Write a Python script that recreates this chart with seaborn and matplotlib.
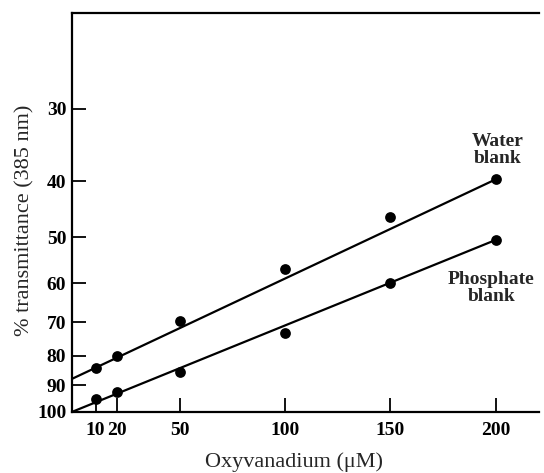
import numpy as np
import pandas as pd
import matplotlib
matplotlib.use("Agg")
import matplotlib.pyplot as plt
import seaborn as sns
from matplotlib.ticker import FixedLocator, FixedFormatter, NullLocator

# values
conc = [10, 20, 50, 100, 150, 200]                    # oxyvanadium (uM)
water_T = [83.9, 80.1, 69.7, 56.7, 46.1, 39.7]        # % transmittance, water blank
phosphate_T = [95.0, 92.4, 85.3, 73.1, 59.9, 50.5]    # % transmittance, phosphate blank

# hand-drawn fit lines (ends)
fit_conc = [-1.3, 200]
water_fit = [87.7, 39.7]
phosphate_fit = [100.0, 50.5]

x_ticks = [10, 20, 50, 100, 150, 200]
y_ticks = [30, 40, 50, 60, 70, 80, 90, 100]

sns.set_theme(style="ticks")
plt.rcParams["font.family"] = ["Liberation Serif", "DejaVu Serif"]

df = pd.DataFrame({"conc": conc, "water": water_T, "phosphate": phosphate_T})
fit = pd.DataFrame({"conc": fit_conc, "water": water_fit, "phosphate": phosphate_fit})

fig = plt.figure(figsize=(5.44, 4.73), dpi=100)
ax = fig.add_axes([0.132, 0.129, 0.858, 0.8435])

for col in ["water", "phosphate"]:
    sns.lineplot(data=fit, x="conc", y=col, ax=ax, color="black", linewidth=1.6)
    sns.scatterplot(data=df, x="conc", y=col, ax=ax, color="black", s=60,
                    edgecolor="black", linewidth=0, zorder=3)

ax.set_yscale("log")
ax.set_ylim(100, 20.5)
ax.set_xlim(-1.3, 220.4)

ax.yaxis.set_major_locator(FixedLocator(y_ticks))
ax.yaxis.set_major_formatter(FixedFormatter([str(t) for t in y_ticks]))
ax.yaxis.set_minor_locator(NullLocator())
ax.xaxis.set_major_locator(FixedLocator(x_ticks))

ax.tick_params(axis="both", direction="in", length=10, width=1.3, colors="black",
               labelsize=14)
ax.tick_params(axis="x", pad=7)
ax.tick_params(axis="y", pad=4)
for lab in ax.get_xticklabels() + ax.get_yticklabels():
    lab.set_fontweight("bold")

for side in ["left", "top", "bottom"]:
    ax.spines[side].set_linewidth(1.6)
    ax.spines[side].set_color("black")
ax.spines["right"].set_visible(False)

ax.set_xlabel("Oxyvanadium (\u03bcM)", fontsize=16)
ax.set_ylabel("% transmittance (385 nm)", fontsize=16)
ax.xaxis.set_label_coords(0.475, -0.1)
ax.yaxis.set_label_coords(-0.079, 0.48)

ax.text(201, 35.3, "Water\nblank", ha="center", va="center", fontsize=14,
        fontweight="bold", linespacing=0.95)
ax.text(198, 61.1, "Phosphate\nblank", ha="center", va="center", fontsize=14,
        fontweight="bold", linespacing=0.95)

fig.savefig("out.png", dpi=100)
